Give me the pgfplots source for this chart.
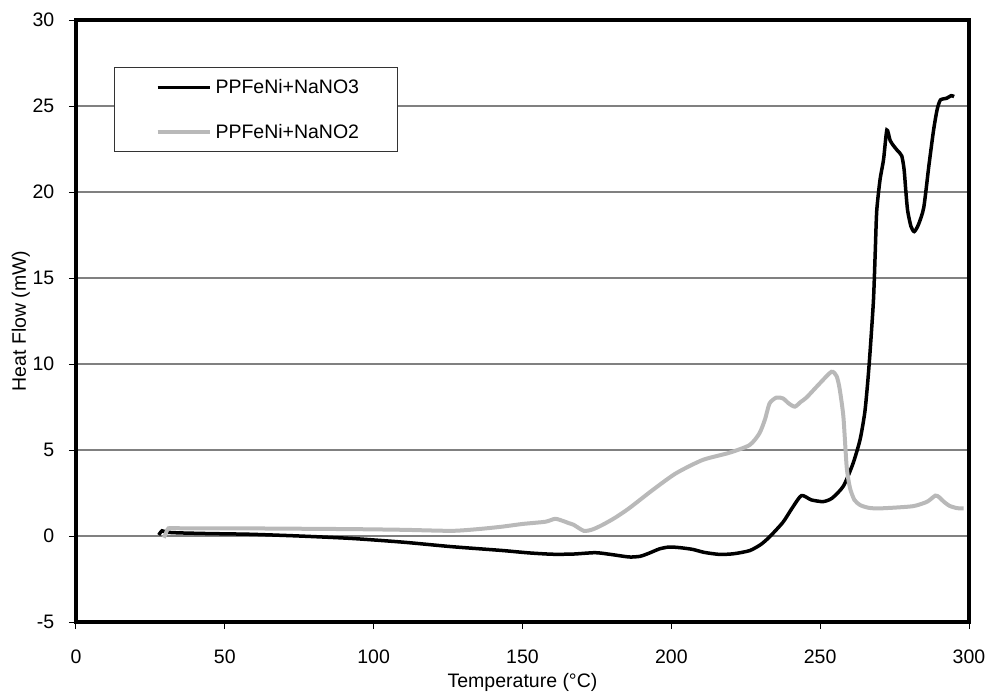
\documentclass[border=0pt]{standalone}
\usepackage{pgfplots}
\pgfplotsset{compat=1.18}
\usepackage{fontspec}
\setmainfont{Liberation Sans}
\definecolor{gridgray}{RGB}{128,128,128}
\definecolor{curvegray}{RGB}{185,185,185}
\begin{document}
\begin{tikzpicture}[font=\fontsize{19.5}{23}\selectfont]
\path[use as bounding box] (-76pt,-72pt) rectangle (911pt,622pt);
\begin{axis}[
  scale only axis,
  clip=false,
  width=893pt, height=602pt,
  xmin=0, xmax=300, ymin=-5, ymax=30,
  xtick={0,50,...,300}, ytick={-5,0,...,30},
  xtick pos=bottom, ytick pos=left,
  tick align=outside,
  major tick length=7pt,
  every tick/.style={black, line width=1pt},
  axis line style={black, line width=2.7pt},
  ymajorgrids,
  major grid style={gridgray, line width=1.2pt},
  /pgf/number format/assume math mode=true,
  xticklabel style={anchor=north, inner sep=0pt, yshift=-20.5pt},
  yticklabel style={anchor=east, inner sep=0pt, xshift=-14.5pt},
  xlabel={Temperature (°C)},
  ylabel={Heat Flow (mW)},
  xlabel style={at={(axis description cs:0.5,-0.1096)}, anchor=base},
  ylabel style={at={(axis description cs:-0.056,0.5)}, anchor=base, rotate=0},
  legend cell align=left,
  legend style={at={(0.04255,0.9219)}, anchor=north west, draw=black!80, line width=1pt, fill=white,
    inner xsep=36pt, inner ysep=10pt, row sep=25pt, nodes={inner sep=2pt}},
  legend image code/.code={\path (0pt,0pt) (59pt,0pt); \draw[#1] (5pt,0pt) -- (57pt,0pt);},
]
\addplot[black, line width=3.5pt, smooth, tension=0.4] coordinates {
(27.8,0.06)(28.9,0.3)(30.5,0.22)(35,0.18)(45,0.14)(58.7,0.1)(75,0.0)(92.4,-0.14)(110,-0.36)(126.2,-0.62)(143,-0.84)(152,-0.98)(160,-1.06)(167,-1.05)(174.5,-0.97)(180,-1.08)(185.8,-1.22)(189.5,-1.18)(192.5,-1.0)(196,-0.75)(199.3,-0.64)(203,-0.68)(207.2,-0.78)(211,-0.95)(216.2,-1.07)(221,-1.03)(226.3,-0.85)(230,-0.5)(233,-0.05)(237.5,0.8)(240.5,1.6)(243.7,2.35)(247,2.1)(251,2.0)(254,2.2)(257.8,2.9)(261,4.2)(263.4,5.6)(265,7.2)(266,9)(266.8,10.8)(267.9,13.7)(268.5,16.5)(269,18.9)(270.1,20.7)(271.3,21.9)(272.4,23.6)(273.5,23.0)(274.6,22.7)(276,22.4)(277.4,22.1)(278.2,21.3)(278.8,20)(279.4,18.9)(280.5,18.0)(281.6,17.7)(283,18.1)(284.8,19.1)(286.5,21.5)(288.1,23.6)(289.3,24.8)(290.4,25.35)(292.5,25.45)(294,25.6)(295,25.55)
};
\addlegendentry{PPFeNi+NaNO3}
\addplot[curvegray, line width=4pt, smooth, tension=0.4] coordinates {
(29.5,-0.1)(30.3,0.2)(31.1,0.45)(35,0.45)(41.8,0.45)(60,0.44)(92.4,0.4)(110,0.36)(126.2,0.3)(135,0.4)(143,0.54)(150,0.7)(157.7,0.83)(161,1.0)(164,0.85)(165.5,0.75)(167.2,0.65)(170.6,0.3)(173.5,0.38)(176.8,0.64)(181,1.05)(185.8,1.61)(193.7,2.67)(201.5,3.64)(210.5,4.42)(219.5,4.84)(226.3,5.29)(229.6,5.97)(231.5,6.8)(233,7.71)(235.3,8.05)(237.5,8.0)(239.5,7.7)(241.5,7.52)(243.5,7.8)(245.4,8.05)(249.9,8.88)(253.8,9.55)(255.5,9.3)(256.5,8.6)(257.8,6.94)(258.9,4.03)(260,2.8)(261.5,2.1)(263.4,1.8)(266,1.65)(269,1.6)(275,1.65)(281.4,1.74)(285.9,1.99)(288.7,2.35)(290,2.25)(291.5,2.0)(293.5,1.75)(296,1.62)(298.2,1.6)
};
\addlegendentry{PPFeNi+NaNO2}
\draw[black, line width=3.2pt] (rel axis cs:0,0) rectangle (rel axis cs:1,1);
\end{axis}
\end{tikzpicture}
\end{document}
